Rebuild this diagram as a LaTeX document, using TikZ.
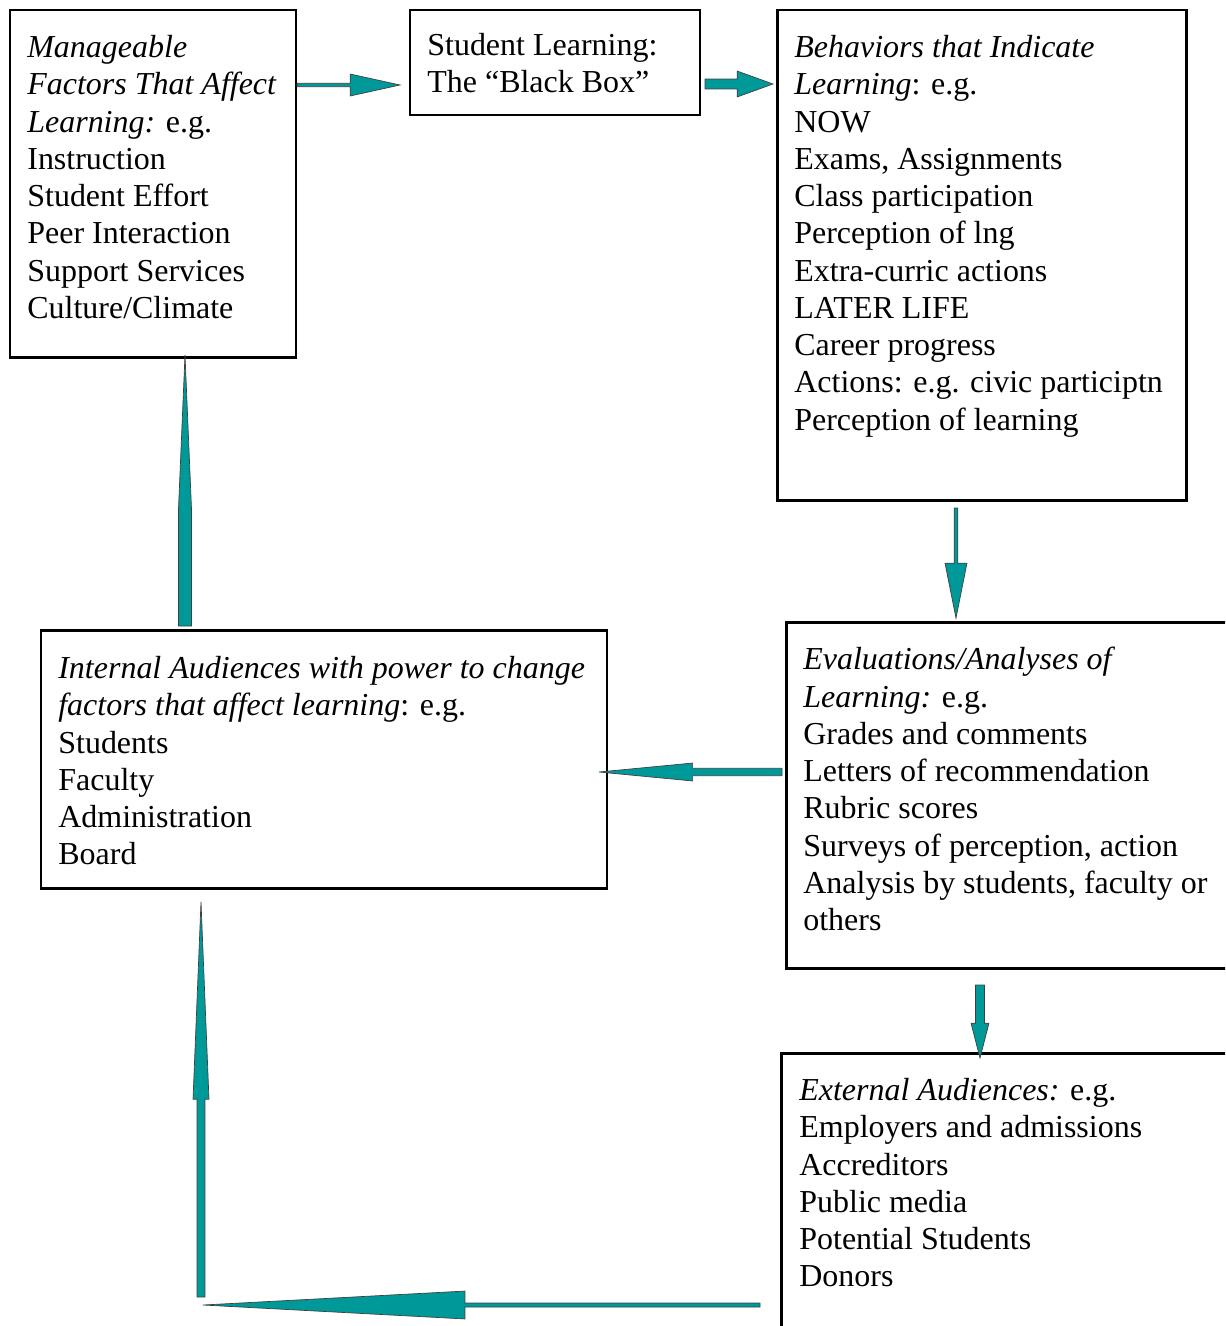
\documentclass[tikz,border=0pt]{standalone}
\usepackage{fontspec}
\setmainfont{Liberation Serif}
\usetikzlibrary{calc,positioning}

\definecolor{arrowteal}{RGB}{0,153,153}
\newcommand\px{0.02cm}
% block arrow: tail, tip, shaft half width, head half width, head length (all in px)
\newcommand\blockarrow[5]{%
	\coordinate (ba-h) at ($(#2)!#5*0.5669pt!(#1)$);
	\draw[blockarrow] ($(#1)!#3*0.5669pt!90:(#2)$) -- ($(ba-h)!#3*0.5669pt!-90:(#1)$)
		-- ($(ba-h)!#4*0.5669pt!-90:(#1)$) -- (#2) -- ($(ba-h)!#4*0.5669pt!90:(#1)$)
		-- ($(ba-h)!#3*0.5669pt!90:(#1)$) -- ($(#1)!#3*0.5669pt!-90:(#2)$) -- cycle;}

\tikzset{
	box/.style={draw, line width=1.7pt, rectangle, outer sep=0pt, inner sep=0pt, anchor=north west},
	boxtext/.style={anchor=north west, align=left, inner sep=0pt,
		font=\fontsize{18.2}{21.2}\selectfont, execute at begin node=\rule{0pt}{13pt}},
	blockarrow/.style={fill=arrowteal, draw=black!75, line width=0.4pt, line join=miter}
}

\begin{document}
\begin{tikzpicture}[x=\px, y=-\px]
	\useasboundingbox (0,0) rectangle (1225,1326);
	\clip (0,0) rectangle (1225,1326);

	%Draws the boxes
	\node[box, minimum width=286*\px, minimum height=347*\px] (fac) at (10,10) {};
	\node[box, minimum width=290*\px, minimum height=105*\px] (blk) at (410,10) {};
	\node[box, minimum width=409*\px, minimum height=490*\px] (beh) at (777,10) {};
	\node[box, minimum width=460*\px, minimum height=346*\px] (eval) at (786,622) {};
	\node[box, minimum width=566*\px, minimum height=258*\px] (int) at (41,630) {};
	\node[box, minimum width=470*\px, minimum height=300*\px] (ext) at (781,1053) {};

	%Text of the boxes
	\node[boxtext] (factxt) at ($(fac.north west)+(17,25)$)
		{\textit{Manageable}\\ \textit{Factors That Affect}\\ \textit{Learning:} e.g.\\
		 Instruction\\ Student Effort\\ Peer Interaction\\ Support Services\\ Culture/Climate};
	\node[boxtext] (blktxt) at ($(blk.north west)+(17,23)$)
		{Student Learning:\\ The ``Black Box''};
	\node[boxtext] (behtxt) at ($(beh.north west)+(17,25)$)
		{\textit{Behaviors that Indicate}\\ \textit{Learning}: e.g.\\ NOW\\ Exams, Assignments\\
		 Class participation\\ Perception of lng\\ Extra-curric actions\\ LATER LIFE\\
		 Career progress\\ Actions: e.g. civic participtn\\ Perception of learning};
	\node[boxtext] (evaltxt) at ($(eval.north west)+(17,25)$)
		{\textit{Evaluations/Analyses of}\\ \textit{Learning:} e.g.\\ Grades and comments\\
		 Letters of recommendation\\ Rubric scores\\ Surveys of perception, action\\
		 Analysis by students, faculty or\\ others};
	\node[boxtext] (inttxt) at ($(int.north west)+(17,26)$)
		{\textit{Internal Audiences with power to change}\\ \textit{factors that affect learning}: e.g.\\
		 Students\\ Faculty\\ Administration\\ Board};
	\node[boxtext] (exttxt) at ($(ext.north west)+(18,25)$)
		{\textit{External Audiences:} e.g.\\ Employers and admissions\\ Accreditors\\
		 Public media\\ Potential Students\\ Donors};

	%End points of the arrows
	\coordinate (a1s) at ($(fac.north east)+(1,75)$);
	\coordinate (a1e) at ($(blk.north west)+(-10,75)$);
	\coordinate (a2s) at ($(blk.north east)+(5,74)$);
	\coordinate (a2e) at ($(beh.north west)+(-4,74)$);
	\coordinate (a3s) at ($(int.north west)+(144,-4)$);
	\coordinate (a3e) at ($(fac.south west)+(175,-2)$);
	\coordinate (a4s) at ($(beh.south west)+(179,8)$);
	\coordinate (a4e) at ($(eval.north west)+(170,-4)$);
	\coordinate (a5s) at ($(eval.north west)+(-4,150)$);
	\coordinate (a5e) at ($(int.north east)+(-8,142)$);
	\coordinate (a6s) at ($(eval.south west)+(194,17)$);
	\coordinate (a6e) at ($(ext.north west)+(199,5)$);
	\coordinate (a7s) at ($(int.south west)+(160,409)$);
	\coordinate (a7e) at ($(int.south west)+(160,14)$);
	\coordinate (a8s) at ($(ext.north west)+(-21,252)$);
	\coordinate (a8e) at ($(int.south west)+(162,417)$);

	%Draws the arrows
	\blockarrow{a1s}{a1e}{1.7}{11}{50}
	\blockarrow{a2s}{a2e}{5}{13}{36}
	\blockarrow{a3s}{a3e}{6.5}{6.5}{154}
	\blockarrow{a4s}{a4e}{1.8}{11}{55}
	\blockarrow{a5s}{a5e}{3.7}{9}{94}
	\blockarrow{a6s}{a6e}{4.5}{9}{35}
	\blockarrow{a7s}{a7e}{4}{8}{198}
	\blockarrow{a8s}{a8e}{2}{14}{263}
\end{tikzpicture}
\end{document}
